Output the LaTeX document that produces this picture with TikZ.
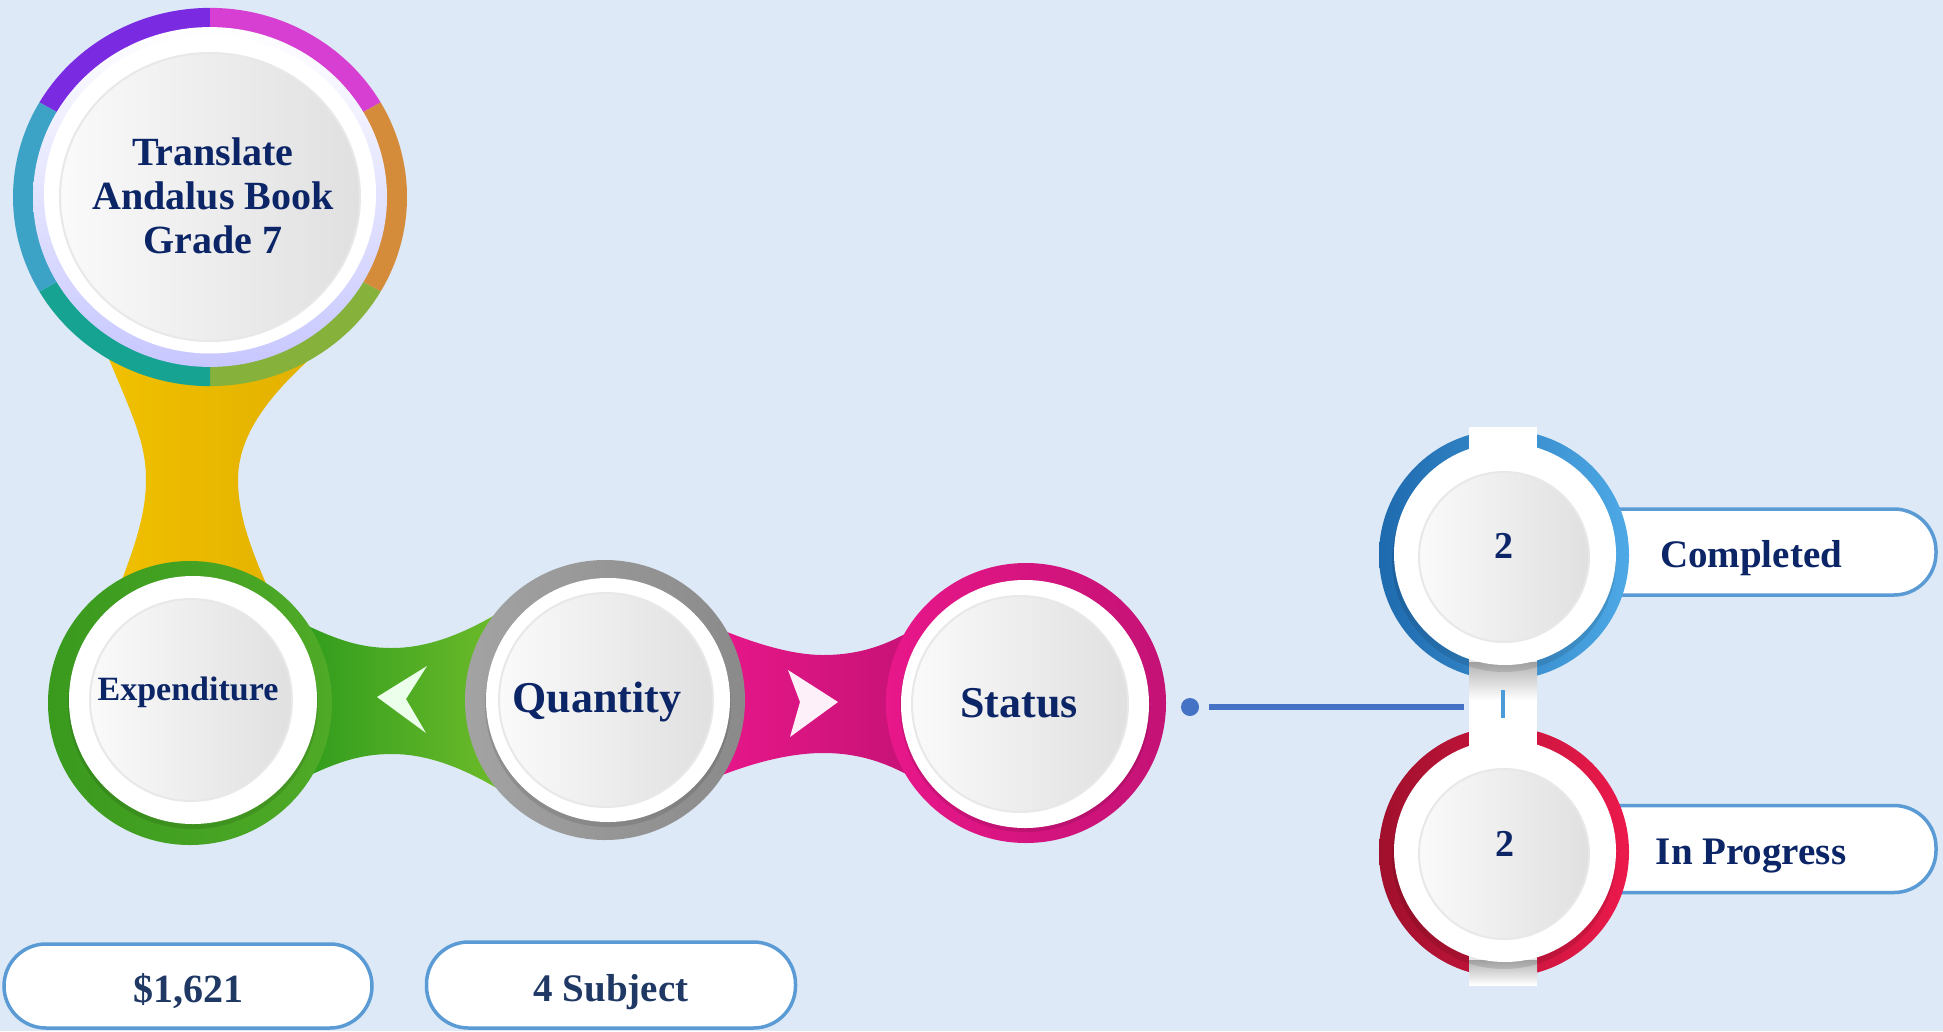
\documentclass[tikz,border=0pt]{standalone}
\usepackage{fontspec}
\setmainfont{Liberation Serif}
\definecolor{bg}{HTML}{DDE9F6}
\definecolor{navy}{HTML}{0B2566}
\definecolor{navytwo}{HTML}{1F3864}
\definecolor{pillblue}{HTML}{5B9BD5}
\definecolor{lineblue}{HTML}{4472C4}
\definecolor{tickblue}{HTML}{4A9BD8}
\definecolor{cpurple}{HTML}{7A2BE2}
\definecolor{cmagenta}{HTML}{D63FD2}
\definecolor{corange}{HTML}{D48B3A}
\definecolor{colive}{HTML}{86B23C}
\definecolor{cteal}{HTML}{17A392}
\definecolor{cblueteal}{HTML}{3CA2C6}
\definecolor{yel}{HTML}{F0C000}
\definecolor{yeldark}{HTML}{E2B000}
\definecolor{grdark}{HTML}{2C9A1C}
\definecolor{grlight}{HTML}{6DBB2A}
\definecolor{grring}{HTML}{4FAA27}
\definecolor{grringd}{HTML}{3A9A1E}
\definecolor{pk}{HTML}{E8178A}
\definecolor{pkdark}{HTML}{C41275}
\definecolor{gyring}{HTML}{A3A3A3}
\definecolor{gyringd}{HTML}{8A8A8A}
\definecolor{bldark}{HTML}{1E6AAE}
\definecolor{bllight}{HTML}{4EA9E6}
\definecolor{rddark}{HTML}{A0102C}
\definecolor{rdlight}{HTML}{EC1A4C}
\definecolor{innerl}{HTML}{FAFAFA}
\definecolor{innerr}{HTML}{E0E0E0}
\definecolor{innerline}{HTML}{E8E8E8}
\tikzset{
  txt/.style={text=navy, inner sep=0pt, align=center, font=\bfseries\fontsize{#1}{#1}\selectfont},
  txt/.default=40,
  pill/.style={draw=pillblue, line width=3.5pt, fill=white, rounded corners=42pt, inner sep=0pt},
  innerdisk/.style={left color=innerl, right color=innerr, draw=innerline, line width=2pt},
  whitedisk/.style={fill=white},
  shadowdisk/.style={fill=black, opacity=0.10},
}
\begin{document}
\begin{tikzpicture}[x=1pt,y=-1pt]
\fill[bg] (0,0) rectangle (1943,1031);
\useasboundingbox (0,0) rectangle (1943,1031);

% ---------- connectors ----------
\shade[left color=yel, right color=yeldark]
  (105,350) .. controls (135,420) and (146,445) .. (146,480)
  .. controls (146,520) and (130,560) .. (108,615)
  -- (280,615) .. controls (255,560) and (238,520) .. (238,480)
  .. controls (238,440) and (262,400) .. (320,350) -- cycle;

\shade[left color=grdark, right color=grlight]
  (290,617) .. controls (335,640) and (360,648) .. (392,648)
  .. controls (425,648) and (460,636) .. (500,612)
  -- (500,790) .. controls (460,766) and (425,754) .. (392,754)
  .. controls (360,754) and (335,762) .. (290,785) -- cycle;

\shade[left color=pk, right color=pkdark]
  (710,625) .. controls (750,642) and (790,655) .. (823,655)
  .. controls (860,655) and (890,645) .. (925,622)
  -- (925,785) .. controls (890,763) and (860,753) .. (823,753)
  .. controls (790,753) and (750,763) .. (710,780) -- cycle;

% chevrons
\fill[white!92!green] (377,697) -- (427,666) -- (406,699) -- (426,733) -- cycle;
\fill[white!94!magenta] (788,670) -- (838,702) -- (790,737) -- (800,702) -- cycle;

% ---------- top circle ----------
\begin{scope}[shift={(210,197)}, yscale=0.96]
  \fill[cpurple]   (0,0) -- (-90:197)  arc[start angle=-90,  end angle=-150, radius=197] -- cycle;
  \fill[cmagenta]  (0,0) -- (-30:197)  arc[start angle=-30,  end angle=-90,  radius=197] -- cycle;
  \fill[corange]   (0,0) -- (30:197)   arc[start angle=30,   end angle=-30,  radius=197] -- cycle;
  \fill[colive]    (0,0) -- (90:197)   arc[start angle=90,   end angle=30,   radius=197] -- cycle;
  \fill[cteal]     (0,0) -- (150:197)  arc[start angle=150,  end angle=90,   radius=197] -- cycle;
  \fill[cblueteal] (0,0) -- (-150:197) arc[start angle=-150, end angle=-210, radius=197] -- cycle;
  \shade[top color=white, bottom color=blue!22!white] (0,0) circle[radius=177];
  \fill[white] (0,-3) circle[radius=166];
  \shade[innerdisk] (0,0) circle[radius=150];
\end{scope}
\node[txt=40] (title) at (213,196) {Translate\\[4pt]Andalus Book\\[4pt]Grade 7};

% ---------- Expenditure ----------
\shade[left color=grringd, right color=grring] (190,703) circle[radius=142];
\fill[shadowdisk] (193,704) circle[radius=125];
\fill[whitedisk] (193,700) circle[radius=124];
\shade[innerdisk] (191,700) circle[radius=101];
\node[txt=34, anchor=base] (exp) at (188,700) {Expenditure};

% ---------- Quantity ----------
\shade[left color=gyring, right color=gyringd] (605,700) circle[radius=140];
\fill[shadowdisk] (608,704) circle[radius=123];
\fill[whitedisk] (608,700) circle[radius=122];
\shade[innerdisk] (606,700) circle[radius=107];
\node[txt=44, anchor=base] (qty) at (597,712) {Quantity};

% ---------- Status ----------
\shade[left color=pk, right color=pkdark] (1026,703) circle[radius=140];
\fill[shadowdisk] (1025,707) circle[radius=125];
\fill[whitedisk] (1025,704) circle[radius=124];
\shade[innerdisk] (1020,704) circle[radius=108];
\node[txt=44, anchor=base] (status) at (1019,717) {Status};

% ---------- link ----------
\node[circle, fill=lineblue, minimum size=18pt, inner sep=0pt] (dot) at (1190,707) {};
\coordinate (lend) at (1464,707);
\draw[lineblue, line width=5.5pt] ([xshift=10pt]dot.east) -- (lend);

% ---------- right pills ----------
\node[pill, minimum width=376pt, minimum height=86pt] (pcomp) at (1748,552) {};
\node[pill, minimum width=376pt, minimum height=87pt] (pprog) at (1748,849) {};

% ---------- right circles ----------
\shade[left color=bldark, right color=bllight] (1504,555) circle[radius=125];
\shade[left color=rddark, right color=rdlight] (1504,852) circle[radius=125];
\fill[white] (1469,427) rectangle (1537,985);
\shade[top color=black!30, bottom color=white] (1469,662) rectangle (1537,700);
\shade[top color=black!30, bottom color=white] (1469,960) rectangle (1537,985);
\fill[shadowdisk] (1504,560) circle[radius=112];
\fill[whitedisk] (1505,554) circle[radius=111];
\shade[innerdisk] (1504,557) circle[radius=85];
\fill[shadowdisk] (1504,857) circle[radius=112];
\fill[whitedisk] (1505,851) circle[radius=111];
\shade[innerdisk] (1504,854) circle[radius=85];
\draw[tickblue, line width=4pt] (1503,690) -- (1503,718);

\node[txt=38, anchor=base] (ncomp) at (1504,558) {2};
\node[txt=38, anchor=base] (nprog) at (1505,856) {2};
\node[txt=39, anchor=base] (tcomp) at (1751,567) {Completed};
\node[txt=39, anchor=base] (tprog) at (1751,864) {In Progress};

% ---------- bottom pills ----------
\node[pill, minimum width=368pt, minimum height=84pt] (pexp) at (188,986) {};
\node[pill, minimum width=369pt, minimum height=86pt] (pqty) at (611,985) {};
\node[txt=40, text=navytwo, anchor=base] (vexp) at (188,1002) {\$1,621};
\node[txt=39, text=navytwo, anchor=base] (vqty) at (611,1001) {4 Subject};
\end{tikzpicture}
\end{document}
